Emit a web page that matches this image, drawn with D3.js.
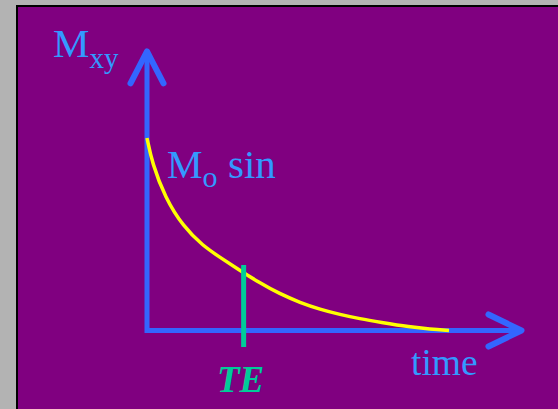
<!DOCTYPE html>
<html>
<head>
<meta charset="utf-8">
<script src="https://cdn.jsdelivr.net/npm/d3@7"></script>
<style>
  html, body { margin: 0; padding: 0; background: #b3b3b3; }
  svg { display: block; }
</style>
</head>
<body>
<div id="graph-wrapper"></div>
<script>
// values (time in arbitrary units, Mxy relative to Mo)
const timeVals = [0, 0.17, 0.6, 1.2, 1.85, 2.42, 3.0, 3.7, 4.4, 5.07, 5.73, 6.39, 7.05, 7.72, 8.71, 9.37, 10];
const mxyVals = [1.0, 0.87, 0.69, 0.54, 0.44, 0.38, 0.32, 0.25, 0.19, 0.145, 0.11, 0.083, 0.061, 0.043, 0.018, 0.007, 0.0];
const teTime = 3.2;
const axisMax = { time: 12.4, mxy: 1.45 };
const labels = { y: "M", ySub: "xy", curve: "M", curveSub: "o", curveTail: "sin", x: "time", te: "TE" };

const width = 558;
const height = 409;

// chart scales
const x = d3.scaleLinear().domain([0, 10]).range([147, 449]);
const y = d3.scaleLinear().domain([0, 1]).range([330.5, 138]);

const svg = d3.select("#graph-wrapper").append("svg")
    .attr("width", width)
    .attr("height", height);

// purple slide panel with black edge
svg.append("rect")
    .attr("x", 17).attr("y", 6)
    .attr("width", width).attr("height", height)
    .attr("fill", "#800080")
    .attr("stroke", "#000")
    .attr("stroke-width", 2);

const axisColor = "#3366ff";
const textColor = "#3399ff";
const serif = "'Liberation Serif', 'Times New Roman', serif";

// axes (L shape)
svg.append("path")
    .attr("d", `M${x(0)},${y(axisMax.mxy)} L${x(0)},${y(0)} L${x(axisMax.time)},${y(0)}`)
    .attr("fill", "none")
    .attr("stroke", axisColor)
    .attr("stroke-width", 5)
    .attr("stroke-linejoin", "miter");

// arrow heads
const tipY = [x(0), y(axisMax.mxy)];
const tipX = [x(axisMax.time), y(0)];
svg.append("path")
    .attr("d", `M${tipY[0] - 16.5},${tipY[1] + 32} L${tipY[0]},${tipY[1]} L${tipY[0] + 16.5},${tipY[1] + 32}`
      + ` M${tipX[0] - 33},${tipX[1] - 16} L${tipX[0]},${tipX[1]} L${tipX[0] - 33},${tipX[1] + 16}`)
    .attr("fill", "none")
    .attr("stroke", axisColor)
    .attr("stroke-width", 6)
    .attr("stroke-linecap", "round")
    .attr("stroke-linejoin", "round");

// decay curve
const line = d3.line()
    .x((d, i) => x(timeVals[i]))
    .y(d => y(d))
    .curve(d3.curveBasis);

svg.append("path")
    .datum(mxyVals)
    .attr("d", line)
    .attr("fill", "none")
    .attr("stroke", "#ffff00")
    .attr("stroke-width", 3.5);

// TE marker
svg.append("line")
    .attr("x1", x(teTime)).attr("x2", x(teTime))
    .attr("y1", 265).attr("y2", 347)
    .attr("stroke", "#00cc99")
    .attr("stroke-width", 5);

// labels
const yl = svg.append("text")
    .attr("x", 53).attr("y", 57)
    .attr("font-family", serif)
    .attr("fill", textColor)
    .attr("font-size", 41);
yl.append("tspan").text(labels.y);
yl.append("tspan").attr("font-size", 29).attr("dy", 11).text(labels.ySub);

const cl = svg.append("text")
    .attr("x", 167).attr("y", 178)
    .attr("font-family", serif)
    .attr("fill", textColor)
    .attr("font-size", 40);
cl.append("tspan").text(labels.curve);
cl.append("tspan").attr("font-size", 30).attr("dy", 9).text(labels.curveSub);
cl.append("tspan").attr("x", 228).attr("dy", -9).attr("font-size", 41).text(labels.curveTail);

svg.append("text")
    .attr("x", 411).attr("y", 375)
    .attr("font-family", serif)
    .attr("fill", textColor)
    .attr("font-size", 37.5)
    .text(labels.x);

svg.append("text")
    .attr("x", 217).attr("y", 392)
    .attr("font-family", serif)
    .attr("font-weight", "bold")
    .attr("font-style", "italic")
    .attr("fill", "#00cc99")
    .attr("font-size", 37)
    .text(labels.te);
</script>
</body>
</html>
